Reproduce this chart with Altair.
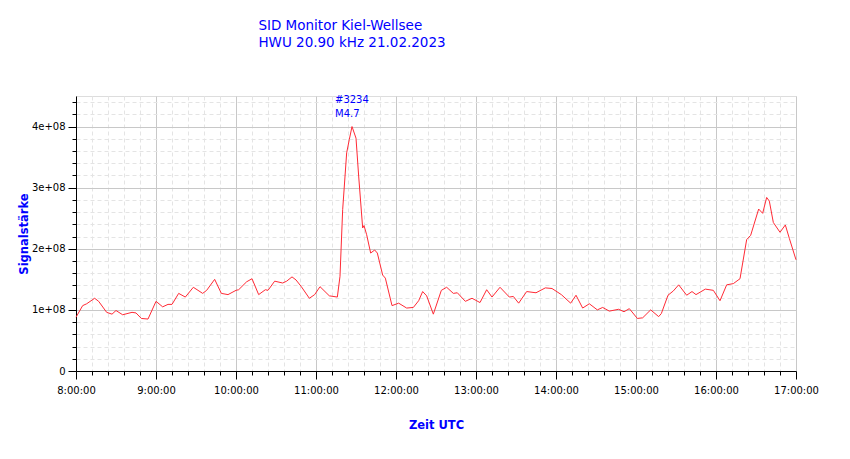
import altair as alt
import pandas as pd

# --- data ---
times = [
    "8:00", "8:05", "8:08", "8:14", "8:17", "8:23", "8:27", "8:30", "8:35", "8:42",
    "8:45", "8:49", "8:54", "9:00", "9:05", "9:09", "9:12", "9:17", "9:22", "9:28",
    "9:35", "9:38", "9:44", "9:49", "9:54", "10:00", "10:02", "10:08", "10:12", "10:17",
    "10:22", "10:24", "10:29", "10:35", "10:38", "10:42", "10:45", "10:49", "10:55", "10:59",
    "11:03", "11:10", "11:16", "11:18", "11:20", "11:23", "11:25", "11:27", "11:30", "11:32",
    "11:35", "11:36", "11:38", "11:41", "11:44", "11:46", "11:50", "11:52", "11:57", "12:02",
    "12:08", "12:13", "12:17", "12:20", "12:23", "12:28", "12:34", "12:38", "12:43", "12:46",
    "12:52", "12:57", "13:03", "13:08", "13:12", "13:18", "13:25", "13:28", "13:32", "13:38",
    "13:45", "13:52", "13:57", "14:04", "14:11", "14:15", "14:20", "14:25", "14:31", "14:35",
    "14:40", "14:47", "14:51", "14:55", "15:01", "15:05", "15:11", "15:17", "15:19", "15:24",
    "15:28", "15:32", "15:38", "15:42", "15:45", "15:52", "15:58", "16:03", "16:08", "16:13",
    "16:18", "16:23", "16:26", "16:32", "16:35", "16:38", "16:40", "16:43", "16:48", "16:52",
    "16:55", "17:00",
]
signal_e8 = [
    0.88, 1.07, 1.10, 1.19, 1.14, 0.96, 0.93, 0.99, 0.92, 0.96,
    0.95, 0.86, 0.85, 1.14, 1.05, 1.09, 1.09, 1.27, 1.21, 1.37,
    1.27, 1.32, 1.50, 1.27, 1.25, 1.32, 1.33, 1.46, 1.51, 1.25,
    1.33, 1.32, 1.47, 1.44, 1.47, 1.54, 1.49, 1.38, 1.19, 1.25,
    1.38, 1.23, 1.21, 1.55, 2.64, 3.57, 3.79, 4.00, 3.81, 3.19,
    2.34, 2.38, 2.23, 1.93, 1.98, 1.93, 1.57, 1.52, 1.07, 1.11,
    1.03, 1.04, 1.15, 1.30, 1.23, 0.93, 1.32, 1.37, 1.27, 1.28,
    1.14, 1.19, 1.12, 1.33, 1.21, 1.37, 1.21, 1.22, 1.11, 1.30,
    1.28, 1.36, 1.35, 1.25, 1.11, 1.24, 1.03, 1.10, 1.00, 1.04,
    0.98, 1.01, 0.97, 1.02, 0.86, 0.87, 1.00, 0.89, 0.94, 1.24,
    1.31, 1.41, 1.24, 1.30, 1.25, 1.34, 1.32, 1.15, 1.41, 1.43,
    1.51, 2.15, 2.22, 2.65, 2.58, 2.84, 2.78, 2.43, 2.27, 2.39,
    2.17, 1.82,
]
flare_time = ["11:27"]
flare_value_e8 = [4.00]
flare_label = ["#3234\nM4.7"]

title_lines = ["SID Monitor Kiel-Wellsee", "HWU 20.90 kHz 21.02.2023"]
x_title = "Zeit UTC"
y_title = "Signalstärke"


def to_hours(t):
    h, m = t.split(":")
    return int(h) + int(m) / 60.0


df = pd.DataFrame({
    "hour": [to_hours(t) for t in times],
    "signal": [v * 1e8 for v in signal_e8],
})
flare = pd.DataFrame({
    "hour": [to_hours(t) for t in flare_time],
    "signal": [v * 1e8 for v in flare_value_e8],
    "label": flare_label,
})

BLUE = "#0000ff"
FONT = "DejaVu Sans"

x_values = [round(8 + i * 0.2, 4) for i in range(46)]
y_values = [i * 2e7 for i in range(23)]

is_hour = "abs(datum.value - round(datum.value)) < 0.001"
is_major_y = "abs(datum.value / 1e8 - round(datum.value / 1e8)) < 0.001"

x_enc = alt.X(
    "hour:Q",
    scale=alt.Scale(domain=[8, 17], nice=False, zero=False),
    axis=alt.Axis(
        values=x_values,
        tickCount=200,
        labelExpr=f"{is_hour} ? (round(datum.value) + ':00:00') : ''",
        labelOverlap=False,
        labelFont=FONT,
        labelFontSize=10,
        labelColor="black",
        labelPadding=6,
        labelFlush=False,
        tickColor="black",
        tickSize={"condition": {"test": is_hour, "value": 8}, "value": 4},
        domainColor="black",
        gridColor={"condition": {"test": is_hour, "value": "#c8c8c8"}, "value": "#e4e4e4"},
        gridDash={"condition": {"test": is_hour, "value": []}, "value": [4, 3]},
        title=x_title,
        titleFont=FONT,
        titleFontSize=11.5,
        titleFontWeight="bold",
        titleColor=BLUE,
        titlePadding=24,
    ),
)

y_enc = alt.Y(
    "signal:Q",
    scale=alt.Scale(domain=[0, 4.5e8], nice=False),
    axis=alt.Axis(
        values=y_values,
        tickCount=200,
        labelExpr=f"datum.value == 0 ? '0' : ({is_major_y} ? (round(datum.value / 1e8) + 'e+08') : '')",
        labelOverlap=False,
        labelFont=FONT,
        labelFontSize=10,
        labelColor="black",
        labelPadding=3,
        tickColor="black",
        tickSize={"condition": {"test": is_major_y, "value": 8}, "value": 4},
        domainColor="black",
        gridColor={"condition": {"test": is_major_y, "value": "#c8c8c8"}, "value": "#e4e4e4"},
        gridDash={"condition": {"test": is_major_y, "value": []}, "value": [4, 3]},
        title=y_title,
        titleFont=FONT,
        titleFontSize=11.5,
        titleFontWeight="bold",
        titleColor=BLUE,
        titlePadding=2,
    ),
)

line = alt.Chart(df).mark_line(color="#ff2a35", strokeWidth=1, interpolate="linear").encode(
    x=x_enc, y=y_enc
)

note = alt.Chart(flare).mark_text(
    align="left", baseline="bottom", dx=-17, dy=-22, lineBreak="\n",
    font=FONT, fontSize=10, color=BLUE, lineHeight=14,
).encode(x="hour:Q", y="signal:Q", text="label:N")

chart = (
    alt.layer(line, note)
    .properties(
        width=720,
        height=275,
        autosize=alt.AutoSizeParams(type="none"),
        padding={"left": 68, "top": 88, "right": 30, "bottom": 70},
        title=alt.TitleParams(
            text=title_lines,
            anchor="start",
            dx=240,
            font=FONT,
            fontSize=13.5,
            fontWeight="normal",
            color=BLUE,
            lineHeight=17,
            offset=45,
        ),
    )
    .configure_view(stroke=None)
    .configure(background="white")
)

chart.save("out.html", embed_options={"renderer": "svg", "actions": False})
